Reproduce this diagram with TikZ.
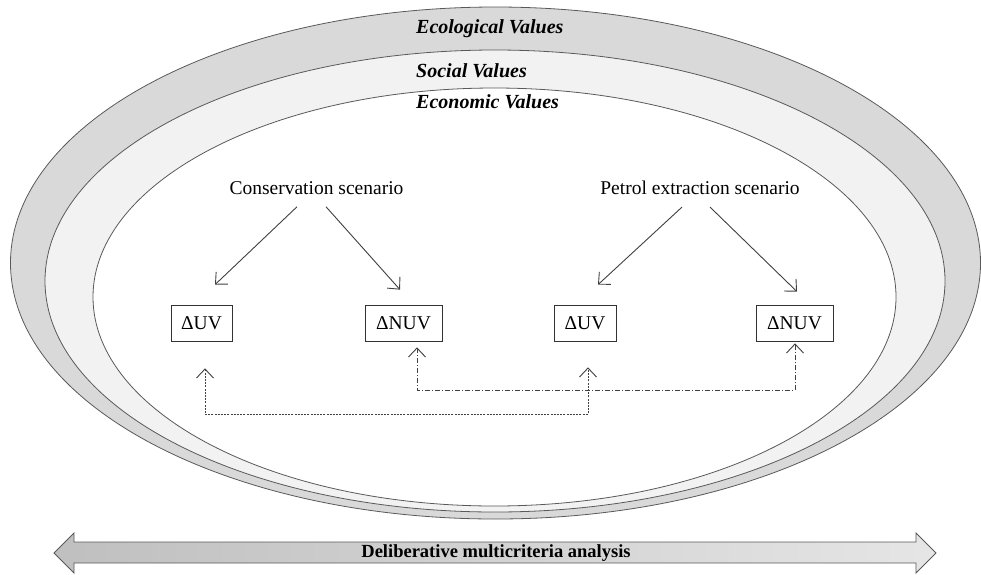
\documentclass[tikz,border=0pt]{standalone}
\usepackage{fontspec}
\setmainfont{Liberation Serif}
\usetikzlibrary{arrows.meta,calc}
\begin{document}
\begin{tikzpicture}[x=1pt,y=-1pt,
  ring/.style={draw=black!65,line width=0.8pt},
  layerlabel/.style={anchor=west,font=\fontsize{20}{23}\selectfont\bfseries\itshape,inner sep=0pt},
  scen/.style={font=\fontsize{19.5}{23}\selectfont,inner sep=0pt},
  valbox/.style={draw=black!80,line width=0.7pt,fill=white,minimum height=36pt,inner sep=0pt,font=\fontsize{19.5}{23}\selectfont},
  barb/.tip={Straight Barb[length=9pt,width=17pt,line width=0.9pt]},
  arr/.style={draw=black!75,line width=0.9pt,-barb},
  linkdot/.style={draw=black!75,line width=0.8pt,dash pattern=on 2pt off 1.2pt,barb-barb},
  linkdashdot/.style={draw=black!75,line width=0.8pt,dash pattern=on 5pt off 2pt on 1pt off 2pt,barb-barb}
]
\useasboundingbox (0,0) rectangle (981,574);
% nested ellipses
\filldraw[ring,fill=black!15] (495.5,263) ellipse [x radius=485pt,y radius=256pt];
\filldraw[ring,fill=black!5] (495,281) ellipse [x radius=450pt,y radius=231pt];
\filldraw[ring,fill=white] (494.5,297) ellipse [x radius=401.5pt,y radius=209pt];

\node[layerlabel] (eco) at (416,29) {Ecological Values};
\node[layerlabel] (soc) at (416,71) {Social Values};
\node[layerlabel] (econ) at (416,102) {Economic Values};

\node[scen] (cons) at (316.5,188) {Conservation scenario};
\node[scen] (petr) at (700,188) {Petrol extraction scenario};

\node[valbox,minimum width=61pt] (uv1) at (201.5,323) {ΔUV};
\node[valbox,minimum width=77pt] (nuv1) at (403.5,323) {ΔNUV};
\node[valbox,minimum width=62pt] (uv2) at (585,323) {ΔUV};
\node[valbox,minimum width=77pt] (nuv2) at (794.5,323) {ΔNUV};

\draw[arr] ($(cons.south)+(-19.5,12)$) -- ($(uv1.north)+(13.5,-20)$);
\draw[arr] ($(cons.south)+(9.5,12)$) -- ($(nuv1.north)+(-3.5,-15)$);
\draw[arr] ($(petr.south)+(-18,12)$) -- ($(uv2.north)+(13,-20)$);
\draw[arr] ($(petr.south)+(10,12)$) -- ($(nuv2.north)+(2.5,-13)$);

\draw[linkdot] ($(uv1.south)+(3.5,27)$) -- ++(0,46) -| ($(uv2.south)+(3,26)$);
\draw[linkdashdot] ($(nuv1.south)+(13.5,6)$) -- ++(0,43) -| ($(nuv2.south)+(0.5,2)$);

% bottom double arrow
\shade[left color=black!25,right color=black!10,draw=black!65,line width=0.9pt]
  (54,553) -- (74,533) -- (74,542) -- (916,542) -- (916,533) -- (936,553)
  -- (916,573) -- (916,563) -- (74,563) -- (74,573) -- cycle;
\node[font=\fontsize{18.5}{21}\selectfont\bfseries,inner sep=0pt] (dma) at (496,553) {Deliberative multicriteria analysis};
\end{tikzpicture}
\end{document}
